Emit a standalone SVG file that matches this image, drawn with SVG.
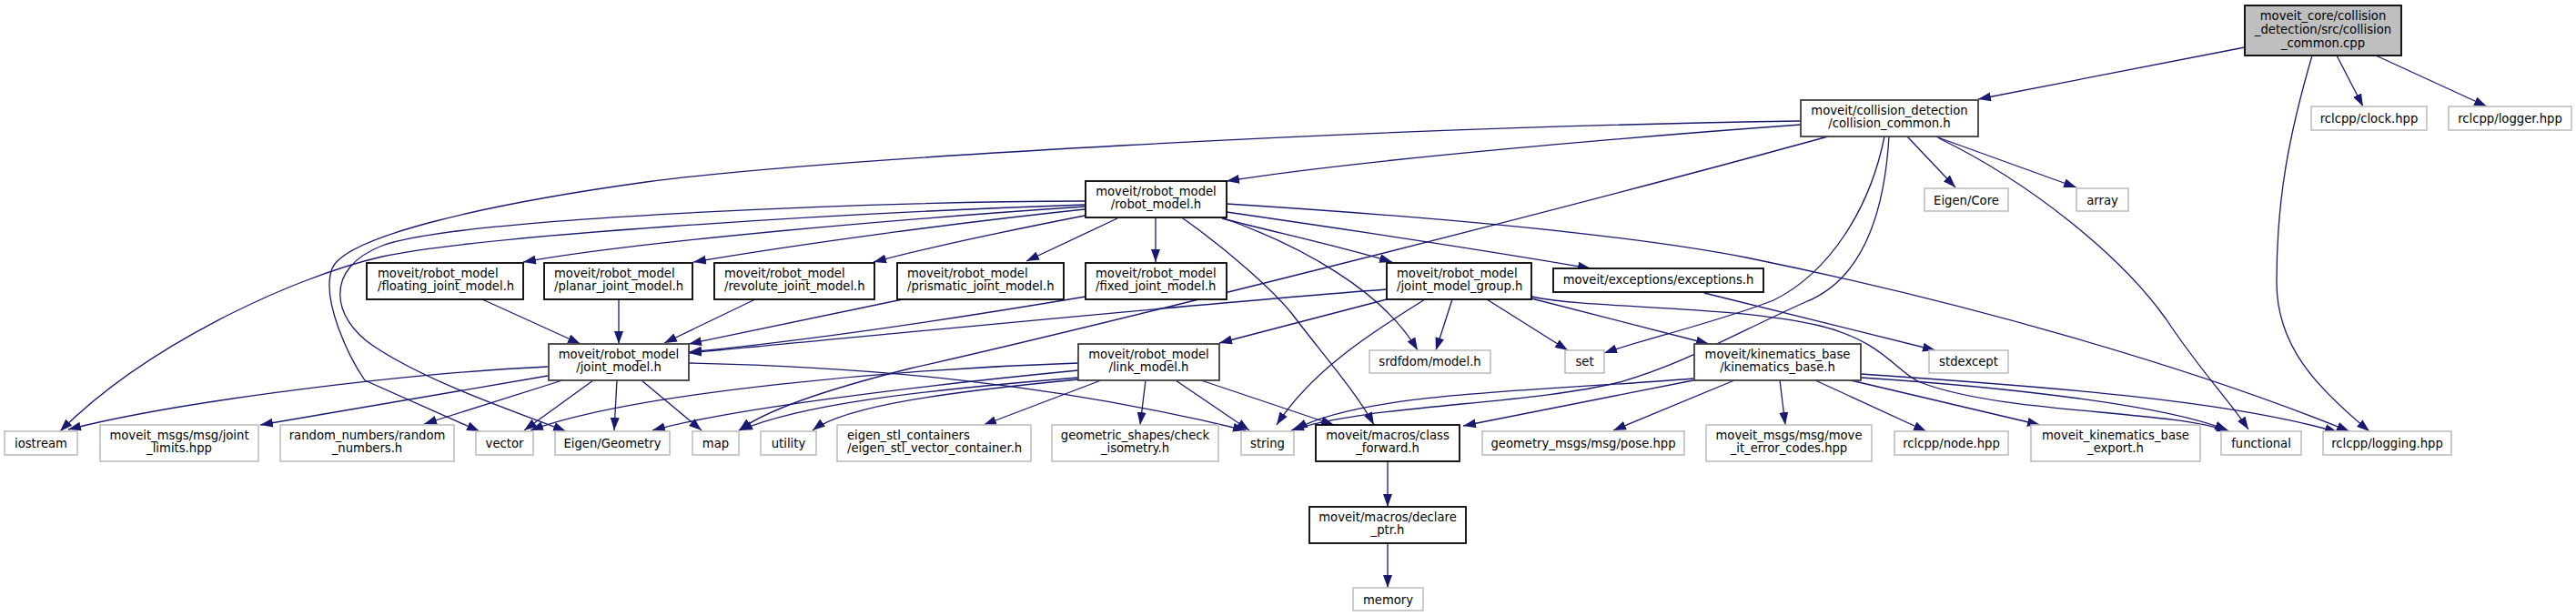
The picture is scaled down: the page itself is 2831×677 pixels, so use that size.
<svg xmlns="http://www.w3.org/2000/svg" width="2831" height="677" viewBox="0 0 2831 677">
<style>
.n rect{fill:#fff;stroke:#000;stroke-width:1.8}
.n.g rect{stroke:#bfbfbf;stroke-width:1.6}
.n.d rect{stroke:#404040}
.n.root rect{fill:#bfbfbf}
text{font-family:"DejaVu Sans","Liberation Sans",sans-serif;font-size:13.2px;fill:#000}
.c{text-anchor:middle}
#edges path{fill:none;stroke:#191970;stroke-width:1.3;marker-end:url(#a)}
</style>
<defs>
<marker id="a" markerUnits="userSpaceOnUse" markerWidth="14" markerHeight="10" refX="14" refY="5" orient="auto" viewBox="0 0 14 10"><path d="M0,0 L14,5 L0,10 z" fill="#191970"/></marker>
</defs>
<rect width="2831" height="677" fill="#fff"/>
<g id="edges">
<path d="M2467,52 L2174,109"/>
<path d="M2568,61 L2597,117"/>
<path d="M2611,61 L2733,117"/>
<path d="M2541,61 C2515,150 2502,220 2502,310 C2502,380 2545,425 2604,474"/>
<path d="M1979,137 C1800,150 1500,175 1348,199"/>
<path d="M1979,133 C1500,140 900,175 710,200 C530,225 380,260 365,295 C352,330 385,395 401,418 L527,474"/>
<path d="M2009,150 C1700,235 1200,360 1000,405 C900,430 840,452 812,473"/>
<path d="M2071,150 C2055,230 2010,300 1949,330 C1900,350 1800,375 1763,388"/>
<path d="M2076,150 C2070,250 2040,310 1984,332 C1900,370 1850,400 1780,420 C1680,445 1500,445 1419,473"/>
<path d="M2096,150 L2149,206"/>
<path d="M2127,150 L2282,206"/>
<path d="M2131,152 C2230,200 2330,280 2380,350 C2420,410 2450,440 2471,472"/>
<path d="M1192,227 C1000,240 700,265 575,288"/>
<path d="M1192,230 C1050,245 880,268 762,288"/>
<path d="M1192,237 C1100,255 1020,272 960,288"/>
<path d="M1228,240 L1128,287"/>
<path d="M1270,240 L1270,288"/>
<path d="M1192,221 C950,222 500,240 420,270 C355,295 365,350 410,380 C470,420 560,450 622,474"/>
<path d="M1192,225 C900,235 520,260 420,282 C320,305 160,380 66,474"/>
<path d="M1300,240 C1350,275 1400,320 1420,345 C1450,385 1490,430 1510,467"/>
<path d="M1343,240 C1400,255 1470,270 1530,288"/>
<path d="M1345,240 C1430,270 1520,320 1558,385"/>
<path d="M1348,233 C1500,255 1650,278 1748,295"/>
<path d="M1348,224 C1600,240 1800,260 1919,283 C2150,330 2400,400 2582,474"/>
<path d="M530,329 L638,378"/>
<path d="M680,329 L680,378"/>
<path d="M830,329 L730,377"/>
<path d="M992,329 C900,348 820,365 757,378"/>
<path d="M1193,326 C1050,350 880,375 757,387"/>
<path d="M1524,318 C1300,335 950,370 757,388"/>
<path d="M602,403 C450,410 200,440 75,472"/>
<path d="M602,413 L286,467"/>
<path d="M618,418 L466,466"/>
<path d="M652,418 L576,473"/>
<path d="M678,418 L675,473"/>
<path d="M705,418 L771,473"/>
<path d="M757,399 C950,403 1150,420 1369,473"/>
<path d="M1185,399 C1000,405 700,430 583,473"/>
<path d="M1185,407 C1000,425 800,450 717,473"/>
<path d="M1185,415 C1000,430 880,445 813,473"/>
<path d="M1185,417 C1050,430 930,445 893,473"/>
<path d="M1210,418 L1081,467"/>
<path d="M1259,418 L1253,467"/>
<path d="M1292,418 L1373,473"/>
<path d="M1320,418 L1466,467"/>
<path d="M1524,329 L1340,377"/>
<path d="M1596,329 L1578,385"/>
<path d="M1634,329 L1723,385"/>
<path d="M1683,328 L1878,378"/>
<path d="M1683,326 C1750,340 1900,335 2000,358 C2070,375 2085,410 2110,420 C2200,455 2380,450 2450,474"/>
<path d="M1566,329 C1500,370 1440,410 1403,467"/>
<path d="M1873,322 L2127,385"/>
<path d="M1861,416 C1700,430 1500,430 1423,472"/>
<path d="M1861,418 L1608,468"/>
<path d="M1906,418 L1773,473"/>
<path d="M1956,418 L1962,467"/>
<path d="M1995,418 L2117,474"/>
<path d="M2034,418 L2242,467"/>
<path d="M2045,415 C2200,425 2380,445 2448,473"/>
<path d="M2045,411 C2250,425 2450,440 2569,475"/>
<path d="M1525,507 L1525,557"/>
<path d="M1525,597 L1525,646"/>
</g>
<g id="n-root" class="n root"><rect x="2467" y="6" width="172" height="55"/><text class="c" x="2553" y="22">moveit_core/collision</text><text class="c" x="2553" y="37">_detection/src/collision</text><text class="c" x="2553" y="51.5">_common.cpp</text></g>
<g id="n-collision-common" class="n d"><rect x="1979" y="110" width="195" height="40"/><text class="c" x="2076.5" y="125.5">moveit/collision_detection</text><text class="c" x="2076.5" y="140">/collision_common.h</text></g>
<g id="n-clock" class="n g"><rect x="2540" y="117" width="127" height="26"/><text class="c" x="2603.5" y="134.5">rclcpp/clock.hpp</text></g>
<g id="n-logger" class="n g"><rect x="2691" y="117" width="135" height="26"/><text class="c" x="2758.5" y="134.5">rclcpp/logger.hpp</text></g>
<g id="n-robot-model" class="n"><rect x="1193" y="199" width="155" height="40"/><text class="c" x="1270.5" y="214.5">moveit/robot_model</text><text class="c" x="1270.5" y="229">/robot_model.h</text></g>
<g id="n-eigen-core" class="n g"><rect x="2115" y="207" width="92" height="25"/><text class="c" x="2161" y="224.5">Eigen/Core</text></g>
<g id="n-array" class="n g"><rect x="2282" y="207" width="57" height="25"/><text class="c" x="2310.5" y="224.5">array</text></g>
<g id="n-floating" class="n"><rect x="403" y="289" width="172" height="40"/><text x="415" y="304.5">moveit/robot_model</text><text x="415" y="319">/floating_joint_model.h</text></g>
<g id="n-planar" class="n"><rect x="598" y="289" width="163" height="40"/><text x="609" y="304.5">moveit/robot_model</text><text x="609" y="319">/planar_joint_model.h</text></g>
<g id="n-revolute" class="n"><rect x="785" y="289" width="176" height="40"/><text x="796" y="304.5">moveit/robot_model</text><text x="796" y="319">/revolute_joint_model.h</text></g>
<g id="n-prismatic" class="n"><rect x="986" y="289" width="183" height="40"/><text x="997" y="304.5">moveit/robot_model</text><text x="997" y="319">/prismatic_joint_model.h</text></g>
<g id="n-fixed" class="n"><rect x="1193" y="289" width="155" height="40"/><text x="1204" y="304.5">moveit/robot_model</text><text x="1204" y="319">/fixed_joint_model.h</text></g>
<g id="n-jmg" class="n"><rect x="1524" y="289" width="159" height="40"/><text x="1535" y="304.5">moveit/robot_model</text><text x="1535" y="319">/joint_model_group.h</text></g>
<g id="n-exceptions" class="n"><rect x="1707" y="295" width="231" height="26"/><text class="c" x="1822.5" y="312">moveit/exceptions/exceptions.h</text></g>
<g id="n-joint-model" class="n d"><rect x="603" y="378" width="154" height="40"/><text class="c" x="680" y="393.5">moveit/robot_model</text><text class="c" x="680" y="408">/joint_model.h</text></g>
<g id="n-link-model" class="n d"><rect x="1185" y="378" width="155" height="40"/><text class="c" x="1262.5" y="393.5">moveit/robot_model</text><text class="c" x="1262.5" y="408">/link_model.h</text></g>
<g id="n-srdfdom" class="n g"><rect x="1505" y="385" width="133" height="25"/><text class="c" x="1571.5" y="402">srdfdom/model.h</text></g>
<g id="n-set" class="n g"><rect x="1720" y="385" width="43" height="25"/><text class="c" x="1741.5" y="402">set</text></g>
<g id="n-kb" class="n d"><rect x="1862" y="378" width="183" height="40"/><text class="c" x="1953.5" y="393.5">moveit/kinematics_base</text><text class="c" x="1953.5" y="408">/kinematics_base.h</text></g>
<g id="n-stdexcept" class="n g"><rect x="2120" y="385" width="87" height="25"/><text class="c" x="2163.5" y="402">stdexcept</text></g>
<g id="n-iostream" class="n g"><rect x="5" y="474" width="80" height="26"/><text class="c" x="45" y="491.5">iostream</text></g>
<g id="n-joint-limits" class="n g"><rect x="110" y="467" width="174" height="40"/><text class="c" x="197" y="482.5">moveit_msgs/msg/joint</text><text class="c" x="197" y="497">_limits.hpp</text></g>
<g id="n-random" class="n g"><rect x="308" y="467" width="191" height="40"/><text class="c" x="403.5" y="482.5">random_numbers/random</text><text class="c" x="403.5" y="497">_numbers.h</text></g>
<g id="n-vector" class="n g"><rect x="523" y="474" width="63" height="26"/><text class="c" x="554.5" y="491.5">vector</text></g>
<g id="n-eigen-geometry" class="n g"><rect x="610" y="474" width="126" height="26"/><text class="c" x="673" y="491.5">Eigen/Geometry</text></g>
<g id="n-map" class="n g"><rect x="761" y="474" width="51" height="26"/><text class="c" x="786.5" y="491.5">map</text></g>
<g id="n-utility" class="n g"><rect x="836" y="474" width="61" height="26"/><text class="c" x="866.5" y="491.5">utility</text></g>
<g id="n-eigen-stl" class="n g"><rect x="920" y="467" width="213" height="40"/><text x="931" y="482.5">eigen_stl_containers</text><text x="931" y="497">/eigen_stl_vector_container.h</text></g>
<g id="n-geometric" class="n g"><rect x="1156" y="467" width="183" height="40"/><text class="c" x="1247.5" y="482.5">geometric_shapes/check</text><text class="c" x="1247.5" y="497">_isometry.h</text></g>
<g id="n-string" class="n g"><rect x="1364" y="474" width="58" height="26"/><text class="c" x="1393" y="491.5">string</text></g>
<g id="n-class-forward" class="n"><rect x="1446" y="467" width="158" height="40"/><text class="c" x="1525" y="482.5">moveit/macros/class</text><text class="c" x="1525" y="497">_forward.h</text></g>
<g id="n-pose" class="n g"><rect x="1629" y="474" width="222" height="26"/><text class="c" x="1740" y="491.5">geometry_msgs/msg/pose.hpp</text></g>
<g id="n-errcodes" class="n g"><rect x="1875" y="467" width="182" height="40"/><text class="c" x="1966" y="482.5">moveit_msgs/msg/move</text><text class="c" x="1966" y="497">_it_error_codes.hpp</text></g>
<g id="n-node" class="n g"><rect x="2082" y="474" width="125" height="26"/><text class="c" x="2144.5" y="491.5">rclcpp/node.hpp</text></g>
<g id="n-export" class="n g"><rect x="2232" y="467" width="186" height="40"/><text class="c" x="2325" y="482.5">moveit_kinematics_base</text><text class="c" x="2325" y="497">_export.h</text></g>
<g id="n-functional" class="n g"><rect x="2441" y="474" width="88" height="26"/><text class="c" x="2485" y="491.5">functional</text></g>
<g id="n-logging" class="n g"><rect x="2553" y="474" width="141" height="26"/><text class="c" x="2623.5" y="491.5">rclcpp/logging.hpp</text></g>
<g id="n-declare-ptr" class="n"><rect x="1439" y="557" width="172" height="40"/><text class="c" x="1525" y="572.5">moveit/macros/declare</text><text class="c" x="1525" y="587">_ptr.h</text></g>
<g id="n-memory" class="n g"><rect x="1487" y="646" width="77" height="25"/><text class="c" x="1525.5" y="663.5">memory</text></g>
</svg>
